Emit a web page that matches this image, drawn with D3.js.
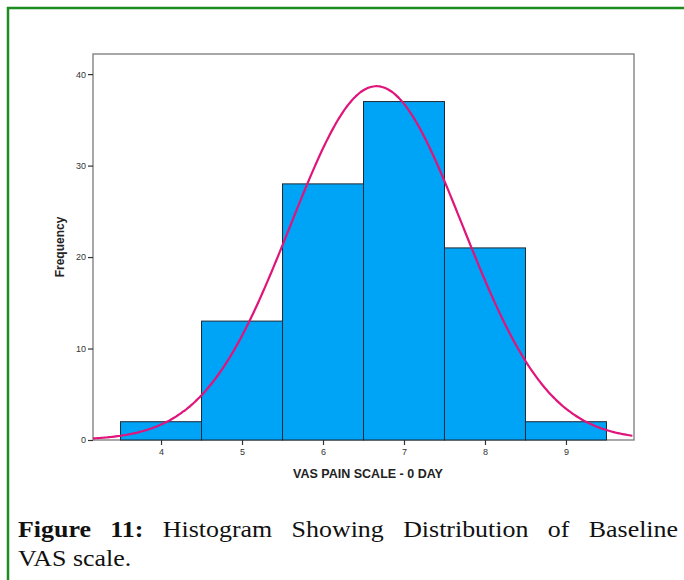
<!DOCTYPE html>
<html>
<head>
<meta charset="utf-8">
<script src="https://cdn.jsdelivr.net/npm/d3@7"></script>
<style>
	body { margin: 0; background: #fff; }
	svg { display: block; }
</style>
</head>
<body>
<div class="chart"></div>
<script>
// histogram bins (VAS score) and their counts
let binCenters = [4, 5, 6, 7, 8, 9];
let binCounts = [2, 13, 28, 37, 21, 2];
let xTicks = [4, 5, 6, 7, 8, 9];
let yTicks = [0, 10, 20, 30, 40];

let w = 684;
let h = 580;
let plot = { left: 93, top: 54, right: 634, bottom: 440 };

let svg = d3.select('.chart').append('svg').attr('width', w).attr('height', h);

// green frame (top + left)
svg.append('line').attr('x1', 7).attr('x2', w).attr('y1', 8).attr('y2', 8)
	.attr('stroke', '#1f8c1f').attr('stroke-width', 2.5);
svg.append('line').attr('x1', 8).attr('x2', 8).attr('y1', 7).attr('y2', h)
	.attr('stroke', '#1f8c1f').attr('stroke-width', 2.5);

let xScale = d3.scaleLinear().domain([3.16, 9.84]).range([plot.left, plot.right]);
let yScale = d3.scaleLinear().domain([0, 42.2]).range([plot.bottom, plot.top]);

// plot frame
svg.append('rect')
	.attr('x', plot.left).attr('y', plot.top)
	.attr('width', plot.right - plot.left).attr('height', plot.bottom - plot.top)
	.attr('fill', 'none').attr('stroke', '#7a7a7a').attr('stroke-width', 1.3);

// bars
svg.selectAll('rect.bar')
	.data(binCenters)
	.enter()
	.append('rect')
	.attr('class', 'bar')
	.attr('x', d => xScale(d - 0.5))
	.attr('y', (d, i) => yScale(binCounts[i]))
	.attr('width', d => xScale(d + 0.5) - xScale(d - 0.5))
	.attr('height', (d, i) => yScale(0) - yScale(binCounts[i]))
	.attr('fill', '#00a4f7')
	.attr('stroke', '#1e2a36')
	.attr('stroke-width', 1);

// normal curve fitted to the histogram
let n = d3.sum(binCounts);
let mean = d3.sum(binCenters, (d, i) => d * binCounts[i]) / n;
let variance = d3.sum(binCenters, (d, i) => binCounts[i] * (d - mean) * (d - mean)) / (n - 1);
let sd = Math.sqrt(variance);
let curveX = d3.range(3.16, 9.84, 0.02);
let line = d3.line()
	.x(d => xScale(d))
	.y(d => yScale(n * Math.exp(-0.5 * Math.pow((d - mean) / sd, 2)) / (sd * Math.sqrt(2 * Math.PI))))
	.curve(d3.curveBasis);

svg.append('clipPath').attr('id', 'clip').append('rect')
	.attr('x', plot.left).attr('y', plot.top)
	.attr('width', plot.right - plot.left).attr('height', plot.bottom - plot.top);

svg.append('path')
	.datum(curveX)
	.attr('d', line)
	.attr('clip-path', 'url(#clip)')
	.attr('fill', 'none')
	.attr('stroke', '#e0147a')
	.attr('stroke-width', 2.2);

// axes
let xAxis = svg.append('g')
	.attr('transform', 'translate(0,' + plot.bottom + ')')
	.call(d3.axisBottom(xScale).tickValues(xTicks).tickFormat(d3.format('d')).tickSize(5).tickPadding(4));
let yAxis = svg.append('g')
	.attr('transform', 'translate(' + plot.left + ',0)')
	.call(d3.axisLeft(yScale).tickValues(yTicks).tickFormat(d3.format('d')).tickSize(5).tickPadding(2));

[xAxis, yAxis].forEach(a => {
	a.select('.domain').remove();
	a.selectAll('line').attr('stroke', '#333').attr('stroke-width', 1.2);
	a.selectAll('text')
		.attr('font-family', 'Liberation Sans, Arial, sans-serif')
		.attr('font-size', '9px')
		.attr('fill', '#333');
});

// axis titles
svg.append('text')
	.attr('x', 368)
	.attr('y', 478)
	.attr('text-anchor', 'middle')
	.attr('font-family', 'Liberation Sans, Arial, sans-serif')
	.attr('font-weight', 'bold')
	.attr('font-size', '12.5px')
	.attr('fill', '#222')
	.text('VAS PAIN SCALE - 0 DAY');

svg.append('text')
	.attr('transform', 'translate(64,247) rotate(-90)')
	.attr('text-anchor', 'middle')
	.attr('font-family', 'Liberation Sans, Arial, sans-serif')
	.attr('font-weight', 'bold')
	.attr('font-size', '12px')
	.attr('fill', '#222')
	.text('Frequency');

// caption (slightly widened serif, first line justified)
let capFont = 'Liberation Serif, serif';
let stretch = 1.08;
let cap1 = svg.append('g')
	.attr('transform', 'translate(18,537) scale(' + stretch + ',1)')
	.append('text')
	.attr('font-family', capFont)
	.attr('font-size', '24px')
	.attr('fill', '#111');
cap1.append('tspan').attr('font-weight', 'bold').text('Figure 11:');
cap1.append('tspan').text(' Histogram Showing Distribution of Baseline');

let target = (678 - 18) / stretch;
let len = cap1.node().getComputedTextLength();
let gaps = 6;
cap1.attr('word-spacing', ((target - len) / gaps) + 'px');

svg.append('g')
	.attr('transform', 'translate(18,566) scale(' + stretch + ',1)')
	.append('text')
	.attr('font-family', capFont)
	.attr('font-size', '24px')
	.attr('fill', '#111')
	.text('VAS scale.');
</script>
</body>
</html>
